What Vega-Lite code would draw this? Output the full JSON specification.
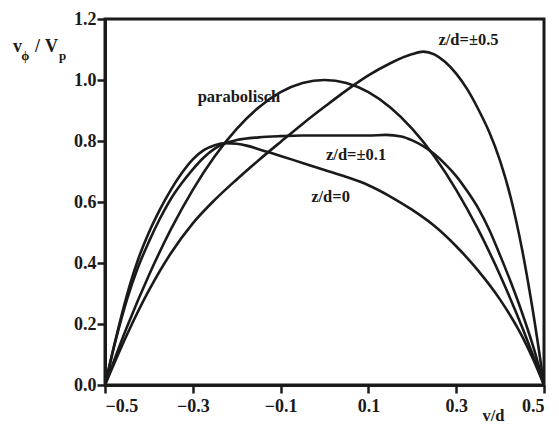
{
  "$schema": "https://vega.github.io/schema/vega-lite/v6.json",
  "width": 439,
  "height": 366,
  "autosize": {"type": "none"},
  "padding": {"left": 105, "top": 19, "right": 15, "bottom": 40},
  "background": "white",
  "config": {
    "view": {"stroke": "#1a1a1a", "strokeWidth": 3},
    "axis": {
      "grid": false,
      "domainColor": "#1a1a1a",
      "domainWidth": 3,
      "tickColor": "#1a1a1a",
      "tickWidth": 2.5,
      "tickSize": 8,
      "labelFont": "Liberation Serif",
      "labelFontWeight": "bold",
      "labelFontSize": 18,
      "labelColor": "#1a1a1a",
      "title": null
    },
    "text": {"font": "Liberation Serif", "fontWeight": "bold", "color": "#1a1a1a"}
  },
  "datasets": {
    "curves": [
      {"curve": "parabolisch", "x": -0.5, "y": 0.0},
      {"curve": "parabolisch", "x": -0.45, "y": 0.19},
      {"curve": "parabolisch", "x": -0.4, "y": 0.36},
      {"curve": "parabolisch", "x": -0.35, "y": 0.51},
      {"curve": "parabolisch", "x": -0.3, "y": 0.64},
      {"curve": "parabolisch", "x": -0.25, "y": 0.75},
      {"curve": "parabolisch", "x": -0.2, "y": 0.84},
      {"curve": "parabolisch", "x": -0.15, "y": 0.91},
      {"curve": "parabolisch", "x": -0.1, "y": 0.96},
      {"curve": "parabolisch", "x": -0.05, "y": 0.99},
      {"curve": "parabolisch", "x": 0.0, "y": 1.0},
      {"curve": "parabolisch", "x": 0.05, "y": 0.99},
      {"curve": "parabolisch", "x": 0.1, "y": 0.96},
      {"curve": "parabolisch", "x": 0.15, "y": 0.91},
      {"curve": "parabolisch", "x": 0.2, "y": 0.84},
      {"curve": "parabolisch", "x": 0.25, "y": 0.75},
      {"curve": "parabolisch", "x": 0.3, "y": 0.64},
      {"curve": "parabolisch", "x": 0.35, "y": 0.51},
      {"curve": "parabolisch", "x": 0.4, "y": 0.36},
      {"curve": "parabolisch", "x": 0.45, "y": 0.19},
      {"curve": "parabolisch", "x": 0.5, "y": 0.0},

      {"curve": "z05", "x": -0.5, "y": 0.0},
      {"curve": "z05", "x": -0.45, "y": 0.165},
      {"curve": "z05", "x": -0.4, "y": 0.31},
      {"curve": "z05", "x": -0.35, "y": 0.432},
      {"curve": "z05", "x": -0.3, "y": 0.53},
      {"curve": "z05", "x": -0.25, "y": 0.607},
      {"curve": "z05", "x": -0.2, "y": 0.674},
      {"curve": "z05", "x": -0.15, "y": 0.737},
      {"curve": "z05", "x": -0.1, "y": 0.797},
      {"curve": "z05", "x": -0.05, "y": 0.856},
      {"curve": "z05", "x": 0.0, "y": 0.912},
      {"curve": "z05", "x": 0.05, "y": 0.966},
      {"curve": "z05", "x": 0.1, "y": 1.015},
      {"curve": "z05", "x": 0.15, "y": 1.055},
      {"curve": "z05", "x": 0.2, "y": 1.085},
      {"curve": "z05", "x": 0.225, "y": 1.093},
      {"curve": "z05", "x": 0.25, "y": 1.084},
      {"curve": "z05", "x": 0.275, "y": 1.059},
      {"curve": "z05", "x": 0.3, "y": 1.021},
      {"curve": "z05", "x": 0.325, "y": 0.97},
      {"curve": "z05", "x": 0.35, "y": 0.905},
      {"curve": "z05", "x": 0.375, "y": 0.83},
      {"curve": "z05", "x": 0.4, "y": 0.735},
      {"curve": "z05", "x": 0.425, "y": 0.61},
      {"curve": "z05", "x": 0.45, "y": 0.445},
      {"curve": "z05", "x": 0.475, "y": 0.24},
      {"curve": "z05", "x": 0.5, "y": 0.0},

      {"curve": "z01", "x": -0.5, "y": 0.0},
      {"curve": "z01", "x": -0.475, "y": 0.15},
      {"curve": "z01", "x": -0.45, "y": 0.28},
      {"curve": "z01", "x": -0.425, "y": 0.385},
      {"curve": "z01", "x": -0.4, "y": 0.47},
      {"curve": "z01", "x": -0.375, "y": 0.545},
      {"curve": "z01", "x": -0.35, "y": 0.61},
      {"curve": "z01", "x": -0.325, "y": 0.662},
      {"curve": "z01", "x": -0.3, "y": 0.707},
      {"curve": "z01", "x": -0.275, "y": 0.746},
      {"curve": "z01", "x": -0.25, "y": 0.775},
      {"curve": "z01", "x": -0.225, "y": 0.793},
      {"curve": "z01", "x": -0.2, "y": 0.803},
      {"curve": "z01", "x": -0.15, "y": 0.812},
      {"curve": "z01", "x": -0.1, "y": 0.816},
      {"curve": "z01", "x": -0.05, "y": 0.818},
      {"curve": "z01", "x": 0.0, "y": 0.818},
      {"curve": "z01", "x": 0.05, "y": 0.818},
      {"curve": "z01", "x": 0.1, "y": 0.818},
      {"curve": "z01", "x": 0.14, "y": 0.82},
      {"curve": "z01", "x": 0.175, "y": 0.815},
      {"curve": "z01", "x": 0.2, "y": 0.802},
      {"curve": "z01", "x": 0.225, "y": 0.783},
      {"curve": "z01", "x": 0.25, "y": 0.757},
      {"curve": "z01", "x": 0.275, "y": 0.724},
      {"curve": "z01", "x": 0.3, "y": 0.685},
      {"curve": "z01", "x": 0.325, "y": 0.636},
      {"curve": "z01", "x": 0.35, "y": 0.58},
      {"curve": "z01", "x": 0.375, "y": 0.51},
      {"curve": "z01", "x": 0.4, "y": 0.425},
      {"curve": "z01", "x": 0.425, "y": 0.335},
      {"curve": "z01", "x": 0.45, "y": 0.237},
      {"curve": "z01", "x": 0.475, "y": 0.128},
      {"curve": "z01", "x": 0.5, "y": 0.0},

      {"curve": "z0", "x": -0.5, "y": 0.0},
      {"curve": "z0", "x": -0.475, "y": 0.155},
      {"curve": "z0", "x": -0.45, "y": 0.295},
      {"curve": "z0", "x": -0.425, "y": 0.41},
      {"curve": "z0", "x": -0.4, "y": 0.5},
      {"curve": "z0", "x": -0.375, "y": 0.575},
      {"curve": "z0", "x": -0.35, "y": 0.64},
      {"curve": "z0", "x": -0.325, "y": 0.695},
      {"curve": "z0", "x": -0.3, "y": 0.74},
      {"curve": "z0", "x": -0.275, "y": 0.77},
      {"curve": "z0", "x": -0.25, "y": 0.786},
      {"curve": "z0", "x": -0.225, "y": 0.793},
      {"curve": "z0", "x": -0.2, "y": 0.791},
      {"curve": "z0", "x": -0.175, "y": 0.784},
      {"curve": "z0", "x": -0.15, "y": 0.773},
      {"curve": "z0", "x": -0.125, "y": 0.762},
      {"curve": "z0", "x": -0.1, "y": 0.751},
      {"curve": "z0", "x": -0.05, "y": 0.728},
      {"curve": "z0", "x": 0.0, "y": 0.705},
      {"curve": "z0", "x": 0.05, "y": 0.682},
      {"curve": "z0", "x": 0.1, "y": 0.655},
      {"curve": "z0", "x": 0.15, "y": 0.618},
      {"curve": "z0", "x": 0.2, "y": 0.574},
      {"curve": "z0", "x": 0.25, "y": 0.522},
      {"curve": "z0", "x": 0.3, "y": 0.455},
      {"curve": "z0", "x": 0.35, "y": 0.375},
      {"curve": "z0", "x": 0.4, "y": 0.28},
      {"curve": "z0", "x": 0.45, "y": 0.16},
      {"curve": "z0", "x": 0.475, "y": 0.085},
      {"curve": "z0", "x": 0.5, "y": 0.0}
    ],
    "labels": [
      {"x": -0.195, "y": 0.928, "text": "parabolisch"},
      {"x": 0.328, "y": 1.115, "text": "z/d=±0.5"},
      {"x": 0.072, "y": 0.738, "text": "z/d=±0.1"},
      {"x": 0.0137, "y": 0.6, "text": "z/d=0"},
      {"x": 0.385, "y": -0.118, "text": "v/d"}
    ],
    "title": [
      {"x": -0.7096, "y": 1.092, "text": "v"},
      {"x": -0.6595, "y": 1.092, "text": "/"},
      {"x": -0.6367, "y": 1.092, "text": "V"}
    ],
    "subs": [
      {"x": -0.691, "y": 1.066, "text": "ϕ"},
      {"x": -0.6048, "y": 1.066, "text": "p"}
    ]
  },
  "layer": [
    {
      "data": {"name": "curves"},
      "mark": {"type": "line", "interpolate": "monotone", "color": "#1a1a1a", "strokeWidth": 2.6, "clip": true},
      "encoding": {
        "x": {"field": "x", "type": "quantitative", "scale": {"domain": [-0.5, 0.5], "nice": false},
              "axis": {"values": [-0.5, -0.3, -0.1, 0.1, 0.3, 0.5], "format": ".1f", "labelPadding": 4}},
        "y": {"field": "y", "type": "quantitative", "scale": {"domain": [0, 1.2], "nice": false},
              "axis": {"values": [0, 0.2, 0.4, 0.6, 0.8, 1.0, 1.2], "format": ".1f", "labelPadding": 1}},
        "detail": {"field": "curve"}
      }
    },
    {
      "data": {"name": "labels"},
      "mark": {"type": "text", "fontSize": 16.5, "align": "center", "baseline": "alphabetic", "clip": false},
      "encoding": {
        "x": {"field": "x", "type": "quantitative"},
        "y": {"field": "y", "type": "quantitative"},
        "text": {"field": "text"}
      }
    },
    {
      "data": {"name": "title"},
      "mark": {"type": "text", "fontSize": 18, "align": "left", "baseline": "alphabetic", "clip": false},
      "encoding": {
        "x": {"field": "x", "type": "quantitative"},
        "y": {"field": "y", "type": "quantitative"},
        "text": {"field": "text"}
      }
    },
    {
      "data": {"name": "subs"},
      "mark": {"type": "text", "fontSize": 13, "align": "left", "baseline": "alphabetic", "clip": false},
      "encoding": {
        "x": {"field": "x", "type": "quantitative"},
        "y": {"field": "y", "type": "quantitative"},
        "text": {"field": "text"}
      }
    }
  ]
}
